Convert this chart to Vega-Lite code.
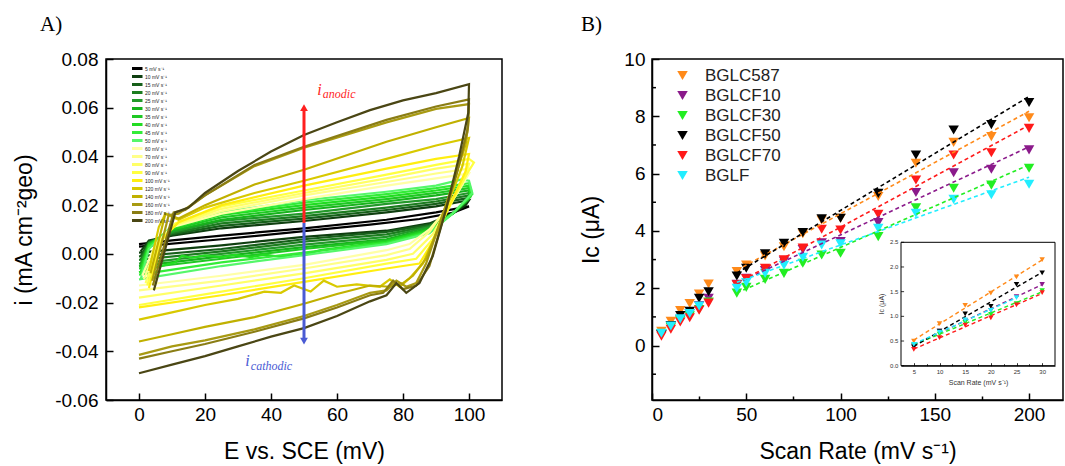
{
  "$schema": "https://vega.github.io/schema/vega-lite/v6.json",
  "background": "white",
  "padding": {"left": 12, "top": 13, "right": 0, "bottom": 0},
  "spacing": 150,
  "bounds": "flush",
  "datasets": {
    "cv": [
      {"sr":"5 mV s⁻¹","e":0,"i":0.004},{"sr":"5 mV s⁻¹","e":10,"i":0.0055},{"sr":"5 mV s⁻¹","e":25,"i":0.0075},{"sr":"5 mV s⁻¹","e":50,"i":0.0105},{"sr":"5 mV s⁻¹","e":75,"i":0.014},{"sr":"5 mV s⁻¹","e":90,"i":0.017},{"sr":"5 mV s⁻¹","e":100,"i":0.0195},{"sr":"5 mV s⁻¹","e":95,"i":0.0168},{"sr":"5 mV s⁻¹","e":85,"i":0.0143},{"sr":"5 mV s⁻¹","e":70,"i":0.012},{"sr":"5 mV s⁻¹","e":50,"i":0.0093},{"sr":"5 mV s⁻¹","e":25,"i":0.006},{"sr":"5 mV s⁻¹","e":0,"i":0.003},
      {"sr":"10 mV s⁻¹","e":0.5,"i":0.001},{"sr":"10 mV s⁻¹","e":3,"i":0.0055},{"sr":"10 mV s⁻¹","e":10,"i":0.0075},{"sr":"10 mV s⁻¹","e":25,"i":0.0105},{"sr":"10 mV s⁻¹","e":50,"i":0.0135},{"sr":"10 mV s⁻¹","e":75,"i":0.017},{"sr":"10 mV s⁻¹","e":90,"i":0.0195},{"sr":"10 mV s⁻¹","e":100,"i":0.022},{"sr":"10 mV s⁻¹","e":99,"i":0.02},{"sr":"10 mV s⁻¹","e":95,"i":0.0165},{"sr":"10 mV s⁻¹","e":88,"i":0.0125},{"sr":"10 mV s⁻¹","e":75,"i":0.0095},{"sr":"10 mV s⁻¹","e":50,"i":0.007},{"sr":"10 mV s⁻¹","e":25,"i":0.0035},{"sr":"10 mV s⁻¹","e":0,"i":0.0005},
      {"sr":"15 mV s⁻¹","e":0.5,"i":-0.001},{"sr":"15 mV s⁻¹","e":3,"i":0.005},{"sr":"15 mV s⁻¹","e":10,"i":0.008},{"sr":"15 mV s⁻¹","e":25,"i":0.0115},{"sr":"15 mV s⁻¹","e":50,"i":0.0145},{"sr":"15 mV s⁻¹","e":75,"i":0.018},{"sr":"15 mV s⁻¹","e":90,"i":0.0205},{"sr":"15 mV s⁻¹","e":100,"i":0.023},{"sr":"15 mV s⁻¹","e":99,"i":0.021},{"sr":"15 mV s⁻¹","e":95,"i":0.0165},{"sr":"15 mV s⁻¹","e":88,"i":0.012},{"sr":"15 mV s⁻¹","e":75,"i":0.009},{"sr":"15 mV s⁻¹","e":50,"i":0.006},{"sr":"15 mV s⁻¹","e":25,"i":0.002},{"sr":"15 mV s⁻¹","e":0,"i":-0.001},
      {"sr":"20 mV s⁻¹","e":0.5,"i":-0.0025},{"sr":"20 mV s⁻¹","e":3,"i":0.0045},{"sr":"20 mV s⁻¹","e":10,"i":0.0085},{"sr":"20 mV s⁻¹","e":25,"i":0.0125},{"sr":"20 mV s⁻¹","e":50,"i":0.0155},{"sr":"20 mV s⁻¹","e":75,"i":0.019},{"sr":"20 mV s⁻¹","e":90,"i":0.0215},{"sr":"20 mV s⁻¹","e":100,"i":0.024},{"sr":"20 mV s⁻¹","e":99.5,"i":0.022},{"sr":"20 mV s⁻¹","e":95,"i":0.0165},{"sr":"20 mV s⁻¹","e":88,"i":0.0115},{"sr":"20 mV s⁻¹","e":75,"i":0.008},{"sr":"20 mV s⁻¹","e":50,"i":0.005},{"sr":"20 mV s⁻¹","e":25,"i":0.001},{"sr":"20 mV s⁻¹","e":0,"i":-0.0025},
      {"sr":"25 mV s⁻¹","e":0.5,"i":-0.004},{"sr":"25 mV s⁻¹","e":3,"i":0.0045},{"sr":"25 mV s⁻¹","e":10,"i":0.009},{"sr":"25 mV s⁻¹","e":25,"i":0.0135},{"sr":"25 mV s⁻¹","e":50,"i":0.0165},{"sr":"25 mV s⁻¹","e":75,"i":0.0205},{"sr":"25 mV s⁻¹","e":90,"i":0.0225},{"sr":"25 mV s⁻¹","e":100,"i":0.025},{"sr":"25 mV s⁻¹","e":100,"i":0.0225},{"sr":"25 mV s⁻¹","e":95,"i":0.0165},{"sr":"25 mV s⁻¹","e":88,"i":0.011},{"sr":"25 mV s⁻¹","e":75,"i":0.007},{"sr":"25 mV s⁻¹","e":50,"i":0.0038},{"sr":"25 mV s⁻¹","e":25,"i":0},{"sr":"25 mV s⁻¹","e":0,"i":-0.004},
      {"sr":"30 mV s⁻¹","e":0.5,"i":-0.005},{"sr":"30 mV s⁻¹","e":3,"i":0.004},{"sr":"30 mV s⁻¹","e":10,"i":0.0095},{"sr":"30 mV s⁻¹","e":25,"i":0.014},{"sr":"30 mV s⁻¹","e":50,"i":0.018},{"sr":"30 mV s⁻¹","e":75,"i":0.0215},{"sr":"30 mV s⁻¹","e":90,"i":0.024},{"sr":"30 mV s⁻¹","e":100,"i":0.026},{"sr":"30 mV s⁻¹","e":100,"i":0.023},{"sr":"30 mV s⁻¹","e":95,"i":0.0165},{"sr":"30 mV s⁻¹","e":88,"i":0.0105},{"sr":"30 mV s⁻¹","e":75,"i":0.006},{"sr":"30 mV s⁻¹","e":50,"i":0.0028},{"sr":"30 mV s⁻¹","e":25,"i":-0.001},{"sr":"30 mV s⁻¹","e":0,"i":-0.005},
      {"sr":"35 mV s⁻¹","e":0.5,"i":-0.006},{"sr":"35 mV s⁻¹","e":3,"i":0.004},{"sr":"35 mV s⁻¹","e":10,"i":0.01},{"sr":"35 mV s⁻¹","e":25,"i":0.015},{"sr":"35 mV s⁻¹","e":50,"i":0.019},{"sr":"35 mV s⁻¹","e":75,"i":0.0225},{"sr":"35 mV s⁻¹","e":90,"i":0.025},{"sr":"35 mV s⁻¹","e":100,"i":0.027},{"sr":"35 mV s⁻¹","e":100.5,"i":0.0235},{"sr":"35 mV s⁻¹","e":95,"i":0.0165},{"sr":"35 mV s⁻¹","e":88,"i":0.01},{"sr":"35 mV s⁻¹","e":75,"i":0.0055},{"sr":"35 mV s⁻¹","e":50,"i":0.002},{"sr":"35 mV s⁻¹","e":25,"i":-0.002},{"sr":"35 mV s⁻¹","e":0,"i":-0.006},
      {"sr":"40 mV s⁻¹","e":0.5,"i":-0.0075},{"sr":"40 mV s⁻¹","e":3,"i":0.0035},{"sr":"40 mV s⁻¹","e":10,"i":0.0105},{"sr":"40 mV s⁻¹","e":25,"i":0.016},{"sr":"40 mV s⁻¹","e":50,"i":0.02},{"sr":"40 mV s⁻¹","e":75,"i":0.0235},{"sr":"40 mV s⁻¹","e":90,"i":0.026},{"sr":"40 mV s⁻¹","e":100,"i":0.028},{"sr":"40 mV s⁻¹","e":100.5,"i":0.024},{"sr":"40 mV s⁻¹","e":95,"i":0.0165},{"sr":"40 mV s⁻¹","e":88,"i":0.0095},{"sr":"40 mV s⁻¹","e":75,"i":0.005},{"sr":"40 mV s⁻¹","e":55,"i":0.0015},{"sr":"40 mV s⁻¹","e":50,"i":-0.0005},{"sr":"40 mV s⁻¹","e":47,"i":-0.0002},{"sr":"40 mV s⁻¹","e":43,"i":-0.0012},{"sr":"40 mV s⁻¹","e":38,"i":-0.0003},{"sr":"40 mV s⁻¹","e":34,"i":-0.0013},{"sr":"40 mV s⁻¹","e":29,"i":-0.0004},{"sr":"40 mV s⁻¹","e":25,"i":-0.0013},{"sr":"40 mV s⁻¹","e":20,"i":-0.0006},{"sr":"40 mV s⁻¹","e":16,"i":-0.0016},{"sr":"40 mV s⁻¹","e":13,"i":-0.0008},{"sr":"40 mV s⁻¹","e":11,"i":-0.0035},{"sr":"40 mV s⁻¹","e":0,"i":-0.0075},
      {"sr":"45 mV s⁻¹","e":0.5,"i":-0.0085},{"sr":"45 mV s⁻¹","e":3,"i":0.003},{"sr":"45 mV s⁻¹","e":10,"i":0.011},{"sr":"45 mV s⁻¹","e":25,"i":0.0165},{"sr":"45 mV s⁻¹","e":50,"i":0.021},{"sr":"45 mV s⁻¹","e":75,"i":0.0245},{"sr":"45 mV s⁻¹","e":90,"i":0.027},{"sr":"45 mV s⁻¹","e":100,"i":0.029},{"sr":"45 mV s⁻¹","e":101,"i":0.0245},{"sr":"45 mV s⁻¹","e":95,"i":0.0165},{"sr":"45 mV s⁻¹","e":88,"i":0.009},{"sr":"45 mV s⁻¹","e":75,"i":0.0045},{"sr":"45 mV s⁻¹","e":50,"i":0.0005},{"sr":"45 mV s⁻¹","e":25,"i":-0.0035},{"sr":"45 mV s⁻¹","e":0,"i":-0.0085},
      {"sr":"50 mV s⁻¹","e":0.5,"i":-0.0105},{"sr":"50 mV s⁻¹","e":3,"i":0.002},{"sr":"50 mV s⁻¹","e":10,"i":0.0115},{"sr":"50 mV s⁻¹","e":25,"i":0.017},{"sr":"50 mV s⁻¹","e":50,"i":0.022},{"sr":"50 mV s⁻¹","e":75,"i":0.0255},{"sr":"50 mV s⁻¹","e":90,"i":0.028},{"sr":"50 mV s⁻¹","e":97.5,"i":0.0305},{"sr":"50 mV s⁻¹","e":100,"i":0.03},{"sr":"50 mV s⁻¹","e":101,"i":0.025},{"sr":"50 mV s⁻¹","e":95,"i":0.0165},{"sr":"50 mV s⁻¹","e":88,"i":0.0085},{"sr":"50 mV s⁻¹","e":75,"i":0.004},{"sr":"50 mV s⁻¹","e":50,"i":-0.0005},{"sr":"50 mV s⁻¹","e":25,"i":-0.005},{"sr":"50 mV s⁻¹","e":0,"i":-0.0105},
      {"sr":"60 mV s⁻¹","e":1,"i":-0.009},{"sr":"60 mV s⁻¹","e":5,"i":0.004},{"sr":"60 mV s⁻¹","e":10,"i":0.011},{"sr":"60 mV s⁻¹","e":25,"i":0.0165},{"sr":"60 mV s⁻¹","e":50,"i":0.0225},{"sr":"60 mV s⁻¹","e":75,"i":0.028},{"sr":"60 mV s⁻¹","e":90,"i":0.031},{"sr":"60 mV s⁻¹","e":100,"i":0.033},{"sr":"60 mV s⁻¹","e":97,"i":0.026},{"sr":"60 mV s⁻¹","e":93,"i":0.018},{"sr":"60 mV s⁻¹","e":88,"i":0.01},{"sr":"60 mV s⁻¹","e":82,"i":0.004},{"sr":"60 mV s⁻¹","e":75,"i":0.0015},{"sr":"60 mV s⁻¹","e":50,"i":-0.0045},{"sr":"60 mV s⁻¹","e":25,"i":-0.009},{"sr":"60 mV s⁻¹","e":0,"i":-0.013},
      {"sr":"70 mV s⁻¹","e":1.5,"i":-0.0105},{"sr":"70 mV s⁻¹","e":5.5,"i":0.004},{"sr":"70 mV s⁻¹","e":10,"i":0.0115},{"sr":"70 mV s⁻¹","e":25,"i":0.0175},{"sr":"70 mV s⁻¹","e":50,"i":0.024},{"sr":"70 mV s⁻¹","e":75,"i":0.0295},{"sr":"70 mV s⁻¹","e":90,"i":0.033},{"sr":"70 mV s⁻¹","e":100,"i":0.035},{"sr":"70 mV s⁻¹","e":98,"i":0.029},{"sr":"70 mV s⁻¹","e":93,"i":0.0185},{"sr":"70 mV s⁻¹","e":88,"i":0.009},{"sr":"70 mV s⁻¹","e":82,"i":0.002},{"sr":"70 mV s⁻¹","e":75,"i":-0.0005},{"sr":"70 mV s⁻¹","e":50,"i":-0.006},{"sr":"70 mV s⁻¹","e":25,"i":-0.011},{"sr":"70 mV s⁻¹","e":0,"i":-0.015},
      {"sr":"80 mV s⁻¹","e":2,"i":-0.012},{"sr":"80 mV s⁻¹","e":6,"i":0.004},{"sr":"80 mV s⁻¹","e":11,"i":0.012},{"sr":"80 mV s⁻¹","e":25,"i":0.0185},{"sr":"80 mV s⁻¹","e":50,"i":0.025},{"sr":"80 mV s⁻¹","e":75,"i":0.031},{"sr":"80 mV s⁻¹","e":90,"i":0.035},{"sr":"80 mV s⁻¹","e":100,"i":0.037},{"sr":"80 mV s⁻¹","e":99,"i":0.032},{"sr":"80 mV s⁻¹","e":94,"i":0.02},{"sr":"80 mV s⁻¹","e":89,"i":0.008},{"sr":"80 mV s⁻¹","e":83,"i":0},{"sr":"80 mV s⁻¹","e":75,"i":-0.0025},{"sr":"80 mV s⁻¹","e":50,"i":-0.008},{"sr":"80 mV s⁻¹","e":25,"i":-0.013},{"sr":"80 mV s⁻¹","e":0,"i":-0.018},
      {"sr":"90 mV s⁻¹","e":2.5,"i":-0.013},{"sr":"90 mV s⁻¹","e":6.5,"i":0.005},{"sr":"90 mV s⁻¹","e":11,"i":0.0125},{"sr":"90 mV s⁻¹","e":25,"i":0.0195},{"sr":"90 mV s⁻¹","e":50,"i":0.026},{"sr":"90 mV s⁻¹","e":75,"i":0.0325},{"sr":"90 mV s⁻¹","e":90,"i":0.0365},{"sr":"90 mV s⁻¹","e":100,"i":0.039},{"sr":"90 mV s⁻¹","e":101.5,"i":0.0375},{"sr":"90 mV s⁻¹","e":99,"i":0.032},{"sr":"90 mV s⁻¹","e":94,"i":0.019},{"sr":"90 mV s⁻¹","e":89,"i":0.006},{"sr":"90 mV s⁻¹","e":84,"i":-0.002},{"sr":"90 mV s⁻¹","e":75,"i":-0.004},{"sr":"90 mV s⁻¹","e":50,"i":-0.01},{"sr":"90 mV s⁻¹","e":25,"i":-0.0155},{"sr":"90 mV s⁻¹","e":0,"i":-0.021},
      {"sr":"100 mV s⁻¹","e":3,"i":-0.014},{"sr":"100 mV s⁻¹","e":7,"i":0.006},{"sr":"100 mV s⁻¹","e":12,"i":0.013},{"sr":"100 mV s⁻¹","e":25,"i":0.02},{"sr":"100 mV s⁻¹","e":50,"i":0.028},{"sr":"100 mV s⁻¹","e":75,"i":0.035},{"sr":"100 mV s⁻¹","e":90,"i":0.039},{"sr":"100 mV s⁻¹","e":100,"i":0.041},{"sr":"100 mV s⁻¹","e":99,"i":0.034},{"sr":"100 mV s⁻¹","e":94,"i":0.0195},{"sr":"100 mV s⁻¹","e":89,"i":0.005},{"sr":"100 mV s⁻¹","e":85,"i":-0.004},{"sr":"100 mV s⁻¹","e":80,"i":-0.005},{"sr":"100 mV s⁻¹","e":75,"i":-0.006},{"sr":"100 mV s⁻¹","e":50,"i":-0.0115},{"sr":"100 mV s⁻¹","e":25,"i":-0.017},{"sr":"100 mV s⁻¹","e":0,"i":-0.022},
      {"sr":"120 mV s⁻¹","e":3,"i":-0.007},{"sr":"120 mV s⁻¹","e":6,"i":0.011},{"sr":"120 mV s⁻¹","e":8,"i":0.0165},{"sr":"120 mV s⁻¹","e":12,"i":0.014},{"sr":"120 mV s⁻¹","e":20,"i":0.019},{"sr":"120 mV s⁻¹","e":35,"i":0.025},{"sr":"120 mV s⁻¹","e":50,"i":0.03},{"sr":"120 mV s⁻¹","e":75,"i":0.039},{"sr":"120 mV s⁻¹","e":90,"i":0.0445},{"sr":"120 mV s⁻¹","e":100,"i":0.0476},{"sr":"120 mV s⁻¹","e":98,"i":0.036},{"sr":"120 mV s⁻¹","e":94,"i":0.022},{"sr":"120 mV s⁻¹","e":90,"i":0.008},{"sr":"120 mV s⁻¹","e":86,"i":-0.004},{"sr":"120 mV s⁻¹","e":82,"i":-0.01},{"sr":"120 mV s⁻¹","e":79,"i":-0.0135},{"sr":"120 mV s⁻¹","e":76,"i":-0.0105},{"sr":"120 mV s⁻¹","e":73,"i":-0.0135},{"sr":"120 mV s⁻¹","e":66,"i":-0.0125},{"sr":"120 mV s⁻¹","e":60,"i":-0.0135},{"sr":"120 mV s⁻¹","e":56,"i":-0.011},{"sr":"120 mV s⁻¹","e":52,"i":-0.0155},{"sr":"120 mV s⁻¹","e":47,"i":-0.013},{"sr":"120 mV s⁻¹","e":43,"i":-0.016},{"sr":"120 mV s⁻¹","e":38,"i":-0.0155},{"sr":"120 mV s⁻¹","e":30,"i":-0.0185},{"sr":"120 mV s⁻¹","e":20,"i":-0.021},{"sr":"120 mV s⁻¹","e":10,"i":-0.024},{"sr":"120 mV s⁻¹","e":0,"i":-0.027},
      {"sr":"140 mV s⁻¹","e":3.5,"i":-0.008},{"sr":"140 mV s⁻¹","e":8,"i":0.0165},{"sr":"140 mV s⁻¹","e":12,"i":0.0145},{"sr":"140 mV s⁻¹","e":20,"i":0.02},{"sr":"140 mV s⁻¹","e":35,"i":0.0285},{"sr":"140 mV s⁻¹","e":50,"i":0.0345},{"sr":"140 mV s⁻¹","e":75,"i":0.046},{"sr":"140 mV s⁻¹","e":90,"i":0.052},{"sr":"140 mV s⁻¹","e":100,"i":0.0558},{"sr":"140 mV s⁻¹","e":99,"i":0.045},{"sr":"140 mV s⁻¹","e":95,"i":0.028},{"sr":"140 mV s⁻¹","e":91,"i":0.012},{"sr":"140 mV s⁻¹","e":87,"i":-0.002},{"sr":"140 mV s⁻¹","e":83,"i":-0.009},{"sr":"140 mV s⁻¹","e":80,"i":-0.012},{"sr":"140 mV s⁻¹","e":76,"i":-0.0135},{"sr":"140 mV s⁻¹","e":70,"i":-0.013},{"sr":"140 mV s⁻¹","e":60,"i":-0.0165},{"sr":"140 mV s⁻¹","e":50,"i":-0.0205},{"sr":"140 mV s⁻¹","e":35,"i":-0.026},{"sr":"140 mV s⁻¹","e":20,"i":-0.03},{"sr":"140 mV s⁻¹","e":10,"i":-0.033},{"sr":"140 mV s⁻¹","e":0,"i":-0.036},
      {"sr":"160 mV s⁻¹","e":4,"i":-0.011},{"sr":"160 mV s⁻¹","e":9,"i":0.016},{"sr":"160 mV s⁻¹","e":12,"i":0.0165},{"sr":"160 mV s⁻¹","e":20,"i":0.024},{"sr":"160 mV s⁻¹","e":35,"i":0.036},{"sr":"160 mV s⁻¹","e":50,"i":0.0436},{"sr":"160 mV s⁻¹","e":75,"i":0.054},{"sr":"160 mV s⁻¹","e":90,"i":0.0595},{"sr":"160 mV s⁻¹","e":100,"i":0.0615},{"sr":"160 mV s⁻¹","e":99.5,"i":0.05},{"sr":"160 mV s⁻¹","e":96,"i":0.032},{"sr":"160 mV s⁻¹","e":92,"i":0.016},{"sr":"160 mV s⁻¹","e":87,"i":-0.004},{"sr":"160 mV s⁻¹","e":84,"i":-0.012},{"sr":"160 mV s⁻¹","e":81,"i":-0.0135},{"sr":"160 mV s⁻¹","e":78,"i":-0.011},{"sr":"160 mV s⁻¹","e":75,"i":-0.015},{"sr":"160 mV s⁻¹","e":70,"i":-0.016},{"sr":"160 mV s⁻¹","e":60,"i":-0.021},{"sr":"160 mV s⁻¹","e":50,"i":-0.0255},{"sr":"160 mV s⁻¹","e":35,"i":-0.031},{"sr":"160 mV s⁻¹","e":20,"i":-0.0355},{"sr":"160 mV s⁻¹","e":10,"i":-0.038},{"sr":"160 mV s⁻¹","e":0,"i":-0.0415},
      {"sr":"180 mV s⁻¹","e":4.2,"i":-0.013},{"sr":"180 mV s⁻¹","e":10.5,"i":0.017},{"sr":"180 mV s⁻¹","e":14,"i":0.018},{"sr":"180 mV s⁻¹","e":20,"i":0.024},{"sr":"180 mV s⁻¹","e":35,"i":0.0365},{"sr":"180 mV s⁻¹","e":50,"i":0.044},{"sr":"180 mV s⁻¹","e":75,"i":0.055},{"sr":"180 mV s⁻¹","e":90,"i":0.0605},{"sr":"180 mV s⁻¹","e":100,"i":0.0634},{"sr":"180 mV s⁻¹","e":99.7,"i":0.052},{"sr":"180 mV s⁻¹","e":96.5,"i":0.034},{"sr":"180 mV s⁻¹","e":92.5,"i":0.016},{"sr":"180 mV s⁻¹","e":88,"i":-0.005},{"sr":"180 mV s⁻¹","e":84,"i":-0.013},{"sr":"180 mV s⁻¹","e":80,"i":-0.0145},{"sr":"180 mV s⁻¹","e":77,"i":-0.011},{"sr":"180 mV s⁻¹","e":74,"i":-0.016},{"sr":"180 mV s⁻¹","e":70,"i":-0.017},{"sr":"180 mV s⁻¹","e":60,"i":-0.022},{"sr":"180 mV s⁻¹","e":50,"i":-0.0265},{"sr":"180 mV s⁻¹","e":35,"i":-0.032},{"sr":"180 mV s⁻¹","e":20,"i":-0.037},{"sr":"180 mV s⁻¹","e":10,"i":-0.04},{"sr":"180 mV s⁻¹","e":0,"i":-0.043},
      {"sr":"200 mV s⁻¹","e":4.5,"i":-0.015},{"sr":"200 mV s⁻¹","e":11,"i":0.017},{"sr":"200 mV s⁻¹","e":15,"i":0.019},{"sr":"200 mV s⁻¹","e":20,"i":0.025},{"sr":"200 mV s⁻¹","e":30,"i":0.034},{"sr":"200 mV s⁻¹","e":40,"i":0.042},{"sr":"200 mV s⁻¹","e":50,"i":0.0488},{"sr":"200 mV s⁻¹","e":60,"i":0.054},{"sr":"200 mV s⁻¹","e":70,"i":0.059},{"sr":"200 mV s⁻¹","e":80,"i":0.063},{"sr":"200 mV s⁻¹","e":90,"i":0.066},{"sr":"200 mV s⁻¹","e":100,"i":0.0697},{"sr":"200 mV s⁻¹","e":99.8,"i":0.058},{"sr":"200 mV s⁻¹","e":97,"i":0.04},{"sr":"200 mV s⁻¹","e":93,"i":0.018},{"sr":"200 mV s⁻¹","e":89,"i":-0.001},{"sr":"200 mV s⁻¹","e":85,"i":-0.012},{"sr":"200 mV s⁻¹","e":81,"i":-0.016},{"sr":"200 mV s⁻¹","e":78,"i":-0.012},{"sr":"200 mV s⁻¹","e":75,"i":-0.017},{"sr":"200 mV s⁻¹","e":70,"i":-0.0195},{"sr":"200 mV s⁻¹","e":60,"i":-0.0255},{"sr":"200 mV s⁻¹","e":50,"i":-0.0305},{"sr":"200 mV s⁻¹","e":40,"i":-0.034},{"sr":"200 mV s⁻¹","e":30,"i":-0.038},{"sr":"200 mV s⁻¹","e":20,"i":-0.042},{"sr":"200 mV s⁻¹","e":10,"i":-0.0455},{"sr":"200 mV s⁻¹","e":0,"i":-0.049}
    ],
    "ic": [
      {"sample":"BGLC587","rate":5,"ic":0.5},{"sample":"BGLC587","rate":10,"ic":0.85},{"sample":"BGLC587","rate":15,"ic":1.22},{"sample":"BGLC587","rate":20,"ic":1.47},{"sample":"BGLC587","rate":25,"ic":1.8},{"sample":"BGLC587","rate":30,"ic":2.15},{"sample":"BGLC587","rate":45,"ic":2.58},{"sample":"BGLC587","rate":50,"ic":2.81},{"sample":"BGLC587","rate":60,"ic":3.13},{"sample":"BGLC587","rate":70,"ic":3.45},{"sample":"BGLC587","rate":80,"ic":3.9},{"sample":"BGLC587","rate":90,"ic":4.38},{"sample":"BGLC587","rate":100,"ic":4.44},{"sample":"BGLC587","rate":120,"ic":5.2},{"sample":"BGLC587","rate":140,"ic":6.36},{"sample":"BGLC587","rate":160,"ic":7.09},{"sample":"BGLC587","rate":180,"ic":7.29},{"sample":"BGLC587","rate":200,"ic":7.95},
      {"sample":"BGLCF10","rate":5,"ic":0.4},{"sample":"BGLCF10","rate":10,"ic":0.7},{"sample":"BGLCF10","rate":15,"ic":0.92},{"sample":"BGLCF10","rate":20,"ic":1.12},{"sample":"BGLCF10","rate":25,"ic":1.4},{"sample":"BGLCF10","rate":30,"ic":1.65},{"sample":"BGLCF10","rate":45,"ic":2.14},{"sample":"BGLCF10","rate":50,"ic":2.35},{"sample":"BGLCF10","rate":60,"ic":2.62},{"sample":"BGLCF10","rate":70,"ic":2.95},{"sample":"BGLCF10","rate":80,"ic":3.35},{"sample":"BGLCF10","rate":90,"ic":3.59},{"sample":"BGLCF10","rate":100,"ic":3.63},{"sample":"BGLCF10","rate":120,"ic":4.29},{"sample":"BGLCF10","rate":140,"ic":5.34},{"sample":"BGLCF10","rate":160,"ic":6.03},{"sample":"BGLCF10","rate":180,"ic":6.15},{"sample":"BGLCF10","rate":200,"ic":6.83},
      {"sample":"BGLCF30","rate":5,"ic":0.42},{"sample":"BGLCF30","rate":10,"ic":0.64},{"sample":"BGLCF30","rate":15,"ic":0.88},{"sample":"BGLCF30","rate":20,"ic":1.04},{"sample":"BGLCF30","rate":25,"ic":1.26},{"sample":"BGLCF30","rate":30,"ic":1.52},{"sample":"BGLCF30","rate":45,"ic":1.83},{"sample":"BGLCF30","rate":50,"ic":2.03},{"sample":"BGLCF30","rate":60,"ic":2.31},{"sample":"BGLCF30","rate":70,"ic":2.52},{"sample":"BGLCF30","rate":80,"ic":2.87},{"sample":"BGLCF30","rate":90,"ic":3.16},{"sample":"BGLCF30","rate":100,"ic":3.22},{"sample":"BGLCF30","rate":120,"ic":3.8},{"sample":"BGLCF30","rate":140,"ic":4.81},{"sample":"BGLCF30","rate":160,"ic":5.49},{"sample":"BGLCF30","rate":180,"ic":5.6},{"sample":"BGLCF30","rate":200,"ic":6.19},
      {"sample":"BGLCF50","rate":5,"ic":0.38},{"sample":"BGLCF50","rate":10,"ic":0.7},{"sample":"BGLCF50","rate":15,"ic":1.05},{"sample":"BGLCF50","rate":20,"ic":1.2},{"sample":"BGLCF50","rate":25,"ic":1.65},{"sample":"BGLCF50","rate":30,"ic":1.88},{"sample":"BGLCF50","rate":45,"ic":2.43},{"sample":"BGLCF50","rate":50,"ic":2.7},{"sample":"BGLCF50","rate":60,"ic":3.2},{"sample":"BGLCF50","rate":70,"ic":3.57},{"sample":"BGLCF50","rate":80,"ic":3.94},{"sample":"BGLCF50","rate":90,"ic":4.42},{"sample":"BGLCF50","rate":100,"ic":4.44},{"sample":"BGLCF50","rate":120,"ic":5.31},{"sample":"BGLCF50","rate":140,"ic":6.65},{"sample":"BGLCF50","rate":160,"ic":7.52},{"sample":"BGLCF50","rate":180,"ic":7.71},{"sample":"BGLCF50","rate":200,"ic":8.48},
      {"sample":"BGLCF70","rate":5,"ic":0.33},{"sample":"BGLCF70","rate":10,"ic":0.57},{"sample":"BGLCF70","rate":15,"ic":0.82},{"sample":"BGLCF70","rate":20,"ic":0.97},{"sample":"BGLCF70","rate":25,"ic":1.23},{"sample":"BGLCF70","rate":30,"ic":1.48},{"sample":"BGLCF70","rate":45,"ic":2.12},{"sample":"BGLCF70","rate":50,"ic":2.33},{"sample":"BGLCF70","rate":60,"ic":2.7},{"sample":"BGLCF70","rate":70,"ic":2.99},{"sample":"BGLCF70","rate":80,"ic":3.4},{"sample":"BGLCF70","rate":90,"ic":4.06},{"sample":"BGLCF70","rate":100,"ic":4.03},{"sample":"BGLCF70","rate":120,"ic":4.58},{"sample":"BGLCF70","rate":140,"ic":5.78},{"sample":"BGLCF70","rate":160,"ic":6.65},{"sample":"BGLCF70","rate":180,"ic":6.73},{"sample":"BGLCF70","rate":200,"ic":7.58},
      {"sample":"BGLF","rate":5,"ic":0.43},{"sample":"BGLF","rate":10,"ic":0.68},{"sample":"BGLF","rate":15,"ic":0.93},{"sample":"BGLF","rate":20,"ic":1.12},{"sample":"BGLF","rate":25,"ic":1.38},{"sample":"BGLF","rate":45,"ic":2.0},{"sample":"BGLF","rate":50,"ic":2.2},{"sample":"BGLF","rate":60,"ic":2.52},{"sample":"BGLF","rate":70,"ic":2.8},{"sample":"BGLF","rate":80,"ic":3.08},{"sample":"BGLF","rate":90,"ic":3.51},{"sample":"BGLF","rate":100,"ic":3.55},{"sample":"BGLF","rate":120,"ic":4.09},{"sample":"BGLF","rate":140,"ic":4.62},{"sample":"BGLF","rate":160,"ic":5.1},{"sample":"BGLF","rate":180,"ic":5.26},{"sample":"BGLF","rate":200,"ic":5.63}
    ],
    "insetTicks": [{"v":0},{"v":0.5},{"v":1},{"v":1.5},{"v":2},{"v":2.5}],
    "minorB": [{"t":-1},{"t":1},{"t":3},{"t":5},{"t":7},{"t":9}]
  },
  "hconcat": [
    {
      "width": 396,
      "height": 341,
      "title": {"text": "A)", "anchor": "start", "frame": "group", "dx": -66, "offset": 15, "font": "Liberation Serif", "fontSize": 21, "fontWeight": "normal", "color": "black"},
      "layer": [
        {
          "data": {"name": "cv"},
          "mark": {"type": "line", "strokeWidth": 2.2, "clip": true},
          "encoding": {
            "x": {"field": "e", "type": "quantitative", "scale": {"domain": [-10, 110], "nice": false, "zero": false},
                  "axis": {"title": "E vs. SCE (mV)", "values": [0,10,20,30,40,50,60,70,80,90,100],
                           "labelExpr": "datum.value % 20 === 0 ? datum.label : ''",
                           "tickSize": {"condition": {"test": "datum.value % 20 === 0", "value": -7}, "value": -4},
                           "labelPadding": 12, "titlePadding": 16}},
            "y": {"field": "i", "type": "quantitative", "scale": {"domain": [-0.06, 0.08], "nice": false, "zero": false},
                  "axis": {"title": "i (mA cm⁻²geo)", "values": [-0.06,-0.05,-0.04,-0.03,-0.02,-0.01,0,0.01,0.02,0.03,0.04,0.05,0.06,0.07,0.08],
                           "format": ".2f",
                           "labelExpr": "abs(round(datum.value*100)) % 2 === 0 ? replace(datum.label, '−', '-') : ''",
                           "tickSize": {"condition": {"test": "abs(round(datum.value*100)) % 2 === 0", "value": -7}, "value": -4},
                           "labelPadding": 15, "titlePadding": 18}},
            "color": {"field": "sr", "type": "nominal",
                      "scale": {"domain": ["5 mV s⁻¹","10 mV s⁻¹","15 mV s⁻¹","20 mV s⁻¹","25 mV s⁻¹","30 mV s⁻¹","35 mV s⁻¹","40 mV s⁻¹","45 mV s⁻¹","50 mV s⁻¹","60 mV s⁻¹","70 mV s⁻¹","80 mV s⁻¹","90 mV s⁻¹","100 mV s⁻¹","120 mV s⁻¹","140 mV s⁻¹","160 mV s⁻¹","180 mV s⁻¹","200 mV s⁻¹"],
                                "range": ["#000000","#0f3f10","#17601a","#1d7d20","#23992a","#17b31c","#1fc823","#22dc22","#33ec38","#55f76a","#ffffa6","#ffff88","#ffff66","#ffff40","#ffee10","#d8c900","#c0b000","#a89a12","#8a7d14","#4a4614"]},
                      "legend": {"title": null, "orient": "none", "legendX": 26, "legendY": 5.7, "symbolType": "M-5,0H5", "symbolSize": 9, "symbolStrokeWidth": 3, "labelFontSize": 5, "labelOffset": 7, "rowPadding": 0, "clipHeight": 7.6, "padding": 0, "labelColor": "#222"}},
            "order": {"value": null}
          }
        },
        {
          "data": {"values": [{}]},
          "mark": {"type": "rule", "color": "#ff1f1f", "strokeWidth": 3},
          "encoding": {"x": {"datum": 50, "type": "quantitative"}, "y": {"datum": 0.0127, "type": "quantitative"}, "y2": {"datum": 0.059}}
        },
        {
          "data": {"values": [{}]},
          "mark": {"type": "rule", "color": "#4a5bd4", "strokeWidth": 3},
          "encoding": {"x": {"datum": 50, "type": "quantitative"}, "y": {"datum": 0.0127, "type": "quantitative"}, "y2": {"datum": -0.035}}
        },
        {
          "data": {"values": [{}]},
          "mark": {"type": "point", "shape": "triangle-up", "filled": true, "size": 60, "color": "#ff1f1f", "opacity": 1},
          "encoding": {"x": {"datum": 50, "type": "quantitative"}, "y": {"datum": 0.0600, "type": "quantitative"}}
        },
        {
          "data": {"values": [{}]},
          "mark": {"type": "point", "shape": "triangle-down", "filled": true, "size": 60, "color": "#4a5bd4", "opacity": 1},
          "encoding": {"x": {"datum": 50, "type": "quantitative"}, "y": {"datum": -0.0358, "type": "quantitative"}}
        },
        {
          "data": {"values": [{}]},
          "mark": {"type": "text", "text": "i", "font": "Liberation Serif", "fontStyle": "italic", "fontSize": 16, "color": "#ff1f1f", "align": "left", "baseline": "alphabetic"},
          "encoding": {"x": {"datum": 54, "type": "quantitative"}, "y": {"datum": 0.0653, "type": "quantitative"}}
        },
        {
          "data": {"values": [{}]},
          "mark": {"type": "text", "text": "anodic", "font": "Liberation Serif", "fontStyle": "italic", "fontSize": 12, "color": "#ff1f1f", "align": "left", "baseline": "alphabetic"},
          "encoding": {"x": {"datum": 55.7, "type": "quantitative"}, "y": {"datum": 0.0638, "type": "quantitative"}}
        },
        {
          "data": {"values": [{}]},
          "mark": {"type": "text", "text": "i", "font": "Liberation Serif", "fontStyle": "italic", "fontSize": 16, "color": "#4a5bd4", "align": "left", "baseline": "alphabetic"},
          "encoding": {"x": {"datum": 32.2, "type": "quantitative"}, "y": {"datum": -0.046, "type": "quantitative"}}
        },
        {
          "data": {"values": [{}]},
          "mark": {"type": "text", "text": "cathodic", "font": "Liberation Serif", "fontStyle": "italic", "fontSize": 12, "color": "#4a5bd4", "align": "left", "baseline": "alphabetic"},
          "encoding": {"x": {"datum": 33.9, "type": "quantitative"}, "y": {"datum": -0.0475, "type": "quantitative"}}
        }
      ]
    },
    {
      "width": 411,
      "height": 341,
      "title": {"text": "B)", "anchor": "start", "frame": "group", "dx": -71, "offset": 15, "font": "Liberation Serif", "fontSize": 21, "fontWeight": "normal", "color": "black"},
      "layer": [
        {
          "layer": [
            {
              "data": {"name": "ic"},
              "mark": {"type": "point", "shape": "triangle-down", "filled": true, "size": 110, "opacity": 1},
              "encoding": {
                "x": {"field": "rate", "type": "quantitative", "scale": {"domain": [0, 218], "nice": false},
                      "axis": {"title": "Scan Rate (mV s⁻¹)", "values": [0,25,50,75,100,125,150,175,200],
                               "labelExpr": "datum.value % 50 === 0 ? datum.label : ''",
                               "tickSize": {"condition": {"test": "datum.value % 50 === 0", "value": -7}, "value": -4},
                               "labelPadding": 12, "titlePadding": 16}},
                "y": {"field": "ic", "type": "quantitative", "scale": {"domain": [-1.9, 10], "nice": false, "zero": false},
                      "axis": {"title": "Ic (μA)", "values": [0,2,4,6,8,10], "tickSize": -7, "labelPadding": 14, "titlePadding": 20}},
                "color": {"field": "sample", "type": "nominal",
                          "scale": {"domain": ["BGLC587","BGLCF10","BGLCF30","BGLCF50","BGLCF70","BGLF"], "range": ["#ff8a1a","#8b1a8b","#22ee22","#000000","#ff1a1a","#22eeff"]},
                          "legend": {"title": null, "orient": "none", "legendX": 22, "legendY": 8, "symbolType": "triangle-down", "symbolSize": 110, "symbolStrokeWidth": 0, "labelFontSize": 17, "labelOffset": 14, "rowPadding": 2, "padding": 0, "labelColor": "#222"}}
              }
            },
            {
              "data": {"name": "ic"},
              "transform": [{"filter": "datum.rate >= 45"}, {"regression": "ic", "on": "rate", "groupby": ["sample"]}],
              "mark": {"type": "line", "strokeDash": [4, 3], "strokeWidth": 1.6},
              "encoding": {
                "x": {"field": "rate", "type": "quantitative"},
                "y": {"field": "ic", "type": "quantitative"},
                "stroke": {"field": "sample", "type": "nominal",
                           "scale": {"domain": ["BGLC587","BGLCF10","BGLCF30","BGLCF50","BGLCF70","BGLF"], "range": ["#ff8a1a","#8b1a8b","#22ee22","#000000","#ff1a1a","#22eeff"]},
                           "legend": null}
              }
            },
            {
              "data": {"name": "minorB"},
              "mark": {"type": "rule", "color": "black", "strokeWidth": 1.5},
              "encoding": {
                "x": {"datum": 0, "type": "quantitative"},
                "x2": {"datum": 2.1},
                "y": {"field": "t", "type": "quantitative"}
              }
            }
          ]
        },
        {
          "layer": [
            {
              "data": {"values": [{}]},
              "mark": {"type": "rect", "fill": null, "stroke": "black", "strokeWidth": 1},
              "encoding": {
                "x": {"datum": 2.5, "type": "quantitative", "scale": {"domain": [2.5, 32.5], "range": [249, 403], "nice": false, "zero": false},
                      "axis": {"orient": "bottom", "offset": -34.3, "title": "Scan Rate (mV s⁻¹)", "values": [5,7.5,10,12.5,15,17.5,20,22.5,25,27.5,30],
                               "labelExpr": "datum.value % 5 === 0 ? datum.label : ''",
                               "tickSize": {"condition": {"test": "datum.value % 5 === 0", "value": -3}, "value": -2},
                               "tickWidth": 0.8, "domainWidth": 1, "labelFontSize": 6, "titleFontSize": 7, "labelPadding": 6, "titlePadding": 4, "labelColor": "#333", "titleColor": "#333"}},
                "x2": {"datum": 32.5},
                "y": {"datum": 0, "type": "quantitative", "scale": {"domain": [0, 2.5], "range": [306.7, 183.3], "nice": false, "zero": false}, "axis": null},
                "y2": {"datum": 2.5}
              }
            },
            {
              "data": {"name": "insetTicks"},
              "mark": {"type": "rule", "color": "black", "strokeWidth": 0.8},
              "encoding": {
                "x": {"datum": 2.5, "type": "quantitative"},
                "x2": {"datum": 3.1},
                "y": {"field": "v", "type": "quantitative", "axis": null}
              }
            },
            {
              "data": {"name": "insetTicks"},
              "mark": {"type": "text", "align": "right", "baseline": "middle", "fontSize": 6, "color": "#333", "font": "Liberation Sans"},
              "encoding": {
                "x": {"datum": 2.0, "type": "quantitative"},
                "y": {"field": "v", "type": "quantitative", "axis": null},
                "text": {"field": "v", "type": "quantitative", "format": ".1f"}
              }
            },
            {
              "data": {"values": [{}]},
              "mark": {"type": "text", "text": "Ic (μA)", "angle": 270, "align": "center", "baseline": "middle", "fontSize": 7, "color": "#333", "font": "Liberation Sans"},
              "encoding": {
                "x": {"datum": -1.2, "type": "quantitative"},
                "y": {"datum": 1.25, "type": "quantitative", "axis": null}
              }
            },
            {
              "data": {"name": "ic"},
              "transform": [{"filter": "datum.rate <= 30"}, {"regression": "ic", "on": "rate", "groupby": ["sample"]}],
              "mark": {"type": "line", "strokeDash": [4, 3], "strokeWidth": 1.4},
              "encoding": {
                "x": {"field": "rate", "type": "quantitative"},
                "y": {"field": "ic", "type": "quantitative", "axis": null},
                "stroke": {"field": "sample", "type": "nominal", "legend": null}
              }
            },
            {
              "data": {"name": "ic"},
              "transform": [{"filter": "datum.rate <= 30"}],
              "mark": {"type": "point", "shape": "triangle-down", "filled": true, "size": 30, "opacity": 1},
              "encoding": {
                "x": {"field": "rate", "type": "quantitative"},
                "y": {"field": "ic", "type": "quantitative", "axis": null},
                "color": {"field": "sample", "type": "nominal", "legend": null}
              }
            }
          ]
        }
      ],
      "resolve": {"scale": {"x": "independent", "y": "independent"}}
    }
  ],
  "resolve": {"scale": {"color": "independent", "stroke": "independent"}},
  "config": {
    "font": "Liberation Sans",
    "view": {"stroke": "black", "strokeWidth": 1.5},
    "axis": {"grid": false, "domainColor": "black", "domainWidth": 1.5, "tickColor": "black", "tickWidth": 1.5, "labelColor": "black", "titleColor": "black", "labelFont": "Liberation Sans", "titleFont": "Liberation Sans", "labelFontSize": 19, "titleFontSize": 23, "titleFontWeight": "normal"},
    "legend": {"labelFont": "Liberation Sans"}
  }
}
